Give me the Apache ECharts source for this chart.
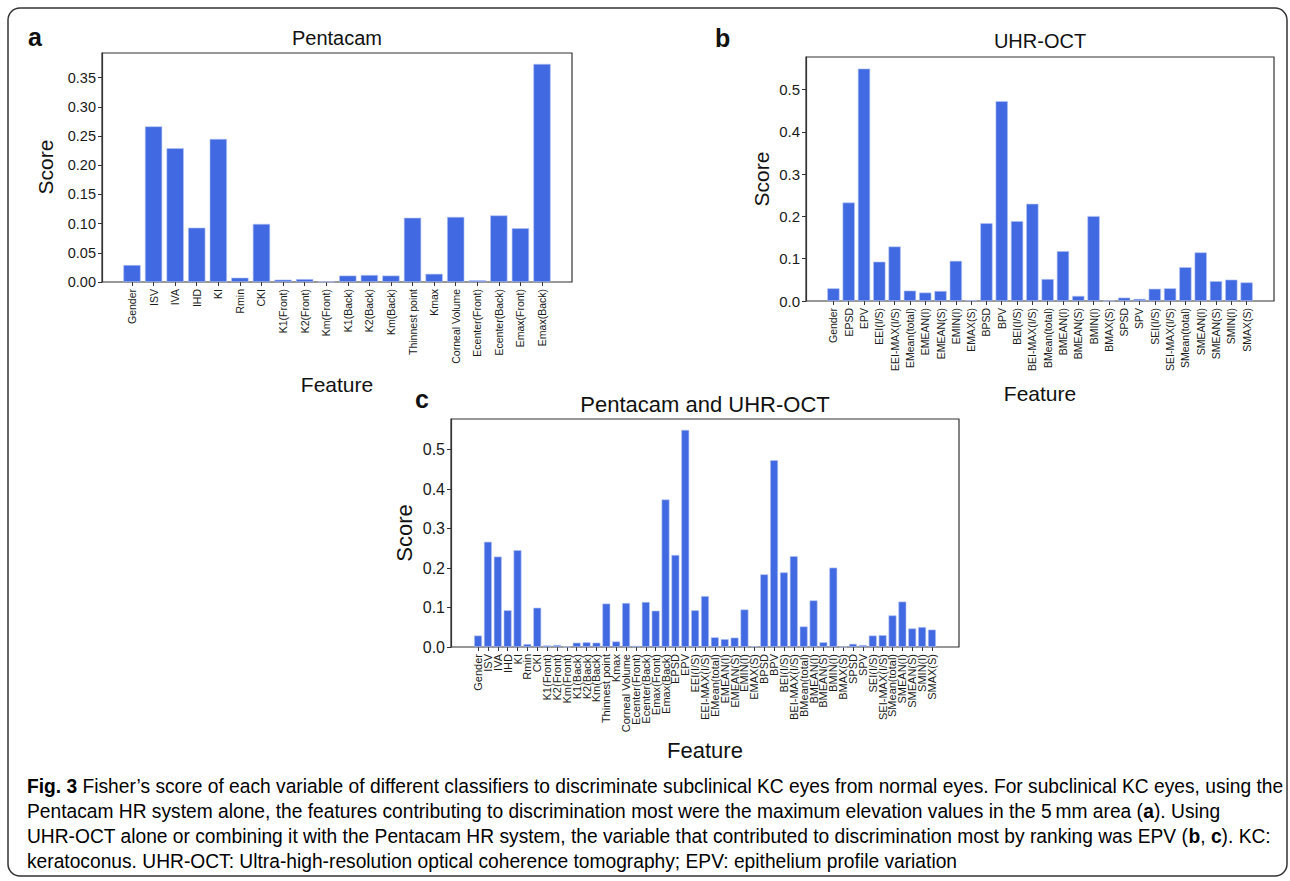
<!DOCTYPE html>
<html><head><meta charset="utf-8">
<script src="https://cdn.jsdelivr.net/npm/echarts@6/dist/echarts.min.js"></script>
<style>html,body{margin:0;padding:0;background:#fff}#c{width:1290px;height:881px}</style>
</head><body><div id="c"></div>
<script>
// ---------- data ----------
const pentacamFeatures = ['Gender','ISV','IVA','IHD','KI','Rmin','CKI','K1(Front)','K2(Front)','Km(Front)','K1(Back)','K2(Back)','Km(Back)','Thinnest point','Kmax','Corneal Volume','Ecenter(Front)','Ecenter(Back)','Emax(Front)','Emax(Back)'];
const pentacamScores = [0.029,0.2665,0.229,0.093,0.245,0.0074,0.0995,0.004,0.005,0.0005,0.011,0.012,0.011,0.110,0.014,0.1115,0.003,0.114,0.092,0.3735];
const uhrFeatures = ['Gender','EPSD','EPV','EEI(I/S)','EEI-MAX(I/S)','EMean(total)','EMEAN(I)','EMEAN(S)','EMIN(I)','EMAX(S)','BPSD','BPV','BEI(I/S)','BEI-MAX(I/S)','BMean(total)','BMEAN(I)','BMEAN(S)','BMIN(I)','BMAX(S)','SPSD','SPV','SEI(I/S)','SEI-MAX(I/S)','SMean(total)','SMEAN(I)','SMEAN(S)','SMIN(I)','SMAX(S)'];
const uhrScores = [0.030,0.233,0.550,0.093,0.129,0.0245,0.020,0.0237,0.095,0.002,0.184,0.473,0.189,0.230,0.052,0.118,0.012,0.201,0.0005,0.008,0.005,0.029,0.030,0.080,0.115,0.047,0.0505,0.044];
// panel c: Pentacam features followed by UHR-OCT features (Gender only once)
const combinedFeatures = pentacamFeatures.concat(uhrFeatures.slice(1));
const combinedScores = pentacamScores.concat(uhrScores.slice(1));
const ticksA = [0,0.05,0.10,0.15,0.20,0.25,0.30,0.35];
const ticksBC = [0,0.1,0.2,0.3,0.4,0.5];
const panelTitles = ['Pentacam','UHR-OCT','Pentacam and UHR-OCT'];
const panelLetters = ['a','b','c'];
const captionLines = [
  [['Fig. 3',1],[' Fisher\u2019s score of each variable of different classifiers to discriminate subclinical KC eyes from normal eyes. For subclinical KC eyes, using the',0]],
  [['Pentacam HR system alone, the features contributing to discrimination most were the maximum elevation values in the 5\u2009mm area (',0],['a',1],['). Using',0]],
  [['UHR-OCT alone or combining it with the Pentacam HR system, the variable that contributed to discrimination most by ranking was EPV (',0],['b',1],[', ',0],['c',1],['). KC:',0]],
  [['keratoconus. UHR-OCT: Ultra-high-resolution optical coherence tomography; EPV: epithelium profile variation',0]]
];

// ---------- layout ----------
const FONT = "'Liberation Sans', Arial, Helvetica, sans-serif";
const CAPFONT = "'Liberation Sans', Arial, sans-serif";
const panels = [
  {feat: pentacamFeatures, vals: pentacamScores, ticks: ticksA, dec: 2, box: [102, 53, 470, 229], tickFont: 14.5, labelFont: 10.5,
   title: [337, 38, 20], letter: [28, 37], score: [45, 167], feature: [337, 384], nameFont: 21},
  {feat: uhrFeatures, vals: uhrScores, ticks: ticksBC, dec: 1, box: [806, 57, 468, 244], tickFont: 15, labelFont: 10.5,
   title: [1040, 41, 20], letter: [715, 38], score: [761, 179], feature: [1040, 393], nameFont: 21},
  {feat: combinedFeatures, vals: combinedScores, ticks: ticksBC, dec: 1, box: [451, 419, 508, 228], tickFont: 16, labelFont: 11,
   title: [705, 404, 22], letter: [415, 399], score: [404, 533], feature: [705, 750], nameFont: 22}
];

const grid = [], xAxis = [], yAxis = [], series = [], graphic = [];
panels.forEach((p, i) => {
  const [L, T, W, H] = p.box;
  const n = p.feat.length;
  const total = 1.1 * (n - 0.2);
  const inset = (0.05 * (n - 0.2) - 0.1) * W / total;
  const ymax = 1.05 * Math.max(...p.vals);
  grid.push({left: L, top: T, width: W, height: H, show: true, borderColor: '#333', borderWidth: 1.2, backgroundColor: 'transparent'});
  grid.push({left: L + inset, top: T, width: W - 2 * inset, height: H});
  xAxis.push({type: 'value', gridIndex: 2 * i, show: false, min: 0, max: 1});
  xAxis.push({type: 'category', gridIndex: 2 * i + 1, data: p.feat, boundaryGap: true,
    axisLine: {show: false},
    axisTick: {show: true, alignWithLabel: true, length: 4, lineStyle: {color: '#333', width: 1}},
    axisLabel: {interval: 0, rotate: 90, margin: 7, fontSize: p.labelFont, fontFamily: FONT, color: '#1a1a1a'}});
  yAxis.push({type: 'value', gridIndex: 2 * i, min: 0, max: ymax,
    axisLine: {show: true, lineStyle: {color: '#333', width: 1.2}},
    axisTick: {show: true, length: 4, customValues: p.ticks, lineStyle: {color: '#333', width: 1}},
    axisLabel: {customValues: p.ticks, formatter: v => v.toFixed(p.dec), fontSize: p.tickFont, margin: 6, color: '#1a1a1a', fontFamily: FONT},
    splitLine: {show: false}});
  yAxis.push({type: 'value', gridIndex: 2 * i + 1, min: 0, max: ymax, show: false});
  series.push({type: 'bar', xAxisIndex: 2 * i + 1, yAxisIndex: 2 * i + 1, data: p.vals, barWidth: '80%',
    itemStyle: {color: '#4169E1', borderColor: '#b6c4f3', borderWidth: 0.6}, silent: true});

  graphic.push({type: 'text', x: p.title[0], y: p.title[1], style: {text: panelTitles[i], font: p.title[2] + 'px ' + FONT, fill: '#111', align: 'center', verticalAlign: 'middle'}});
  graphic.push({type: 'text', x: p.letter[0], y: p.letter[1], style: {text: panelLetters[i], font: 'bold 25px ' + FONT, fill: '#111', align: 'left', verticalAlign: 'middle'}});
  graphic.push({type: 'text', x: p.score[0], y: p.score[1], rotation: Math.PI / 2, style: {text: 'Score', font: p.nameFont + 'px ' + FONT, fill: '#111', align: 'center', verticalAlign: 'middle'}});
  graphic.push({type: 'text', x: p.feature[0], y: p.feature[1], style: {text: 'Feature', font: p.nameFont + 'px ' + FONT, fill: '#111', align: 'center', verticalAlign: 'middle'}});
});

// outer frame
graphic.push({type: 'rect', shape: {x: 8, y: 8, width: 1279, height: 868, r: 12}, style: {fill: 'none', stroke: '#333', lineWidth: 1.5}, z: -1});

// caption (condensed look: regular sans compressed horizontally to the reference line length)
const capSize = 20.5;
const capTarget0 = 1256;
const capY = [786, 811, 836, 861];
const mctx = document.createElement('canvas').getContext('2d');
function lineWidth(segs) {
  let w = 0;
  segs.forEach(s => { mctx.font = (s[1] ? 'bold ' : '') + capSize + 'px ' + CAPFONT; w += mctx.measureText(s[0]).width; });
  return w;
}
const capScale = capTarget0 / lineWidth(captionLines[0]);
captionLines.forEach((segs, k) => {
  const txt = segs.map(s => '{' + (s[1] ? 'b' : 'n') + '|' + s[0] + '}').join('');
  graphic.push({type: 'text', x: 27, y: capY[k], scaleX: capScale, originX: 0, originY: 0,
    style: {text: txt, verticalAlign: 'middle', align: 'left',
      rich: {n: {fontFamily: CAPFONT, fontSize: capSize, color: '#333'}, b: {fontFamily: CAPFONT, fontSize: capSize, fontWeight: 'bold', color: '#222'}}}});
});

const chart = echarts.init(document.getElementById('c'), null, {renderer: 'svg', width: 1290, height: 881});
chart.setOption({animation: false, backgroundColor: '#fff', grid, xAxis, yAxis, series, graphic});
</script>
</body></html>
